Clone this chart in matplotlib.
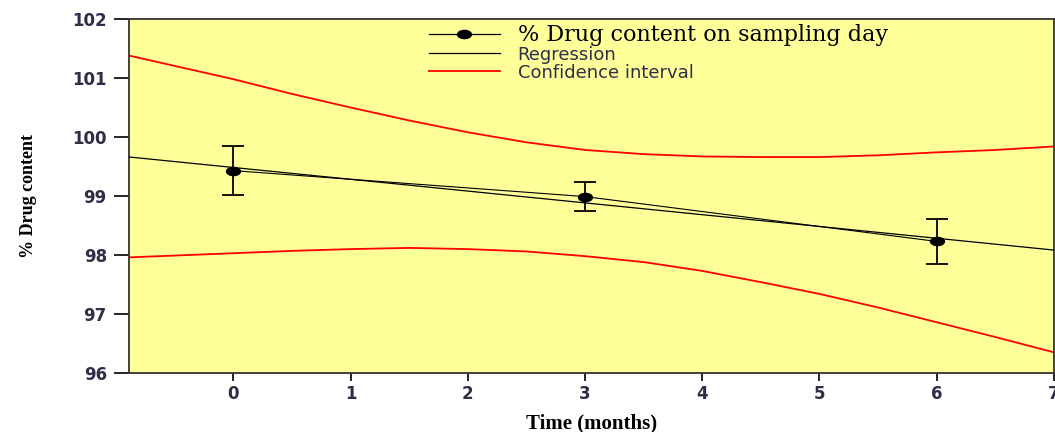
import numpy as np
import matplotlib.pyplot as plt
from matplotlib.lines import Line2D
from matplotlib.path import Path
from matplotlib.transforms import Affine2D

# Measured drug content (mean +/- SD)
months = [0, 3, 6]
drug_content = [99.43, 98.99, 98.23]
drug_sd = [0.42, 0.24, 0.38]

# Confidence interval curves
ci_x = [-0.89, 0, 0.5, 1, 1.5, 2, 2.5, 3, 3.5, 4, 4.5, 5, 5.5, 6, 6.5, 7]
ci_upper = [101.38, 100.98, 100.73, 100.50, 100.28, 100.08, 99.91, 99.78,
            99.71, 99.67, 99.66, 99.66, 99.69, 99.74, 99.78, 99.84]
ci_lower = [97.96, 98.03, 98.07, 98.10, 98.12, 98.10, 98.06, 97.98,
            97.88, 97.73, 97.54, 97.34, 97.11, 96.86, 96.61, 96.35]

x_ticks = [0, 1, 2, 3, 4, 5, 6, 7]
y_ticks = [96, 97, 98, 99, 100, 101, 102]

# Linear regression through the measured points
slope, intercept = np.polyfit(months, drug_content, 1)
reg_x = np.array([ci_x[0], ci_x[-1]])
reg_y = intercept + slope * reg_x

# the original is stretched sideways, so the dots are flat ellipses
oval = Path.unit_circle().transformed(Affine2D().scale(1.7, 1.0))

fig = plt.figure(figsize=(10.55, 4.32), dpi=100)
ax = fig.add_axes([0.1223, 0.1366, 0.8767, 0.8194])
ax.set_facecolor('#ffff99')

ax.errorbar(months, drug_content, yerr=drug_sd, color='black', lw=0.8,
            marker=oval, markersize=10, capsize=8, elinewidth=1.3,
            capthick=1.3, zorder=4)
ax.plot(reg_x, reg_y, color='black', lw=0.9, zorder=3)
ax.plot(ci_x, ci_upper, color='red', lw=1.3)
ax.plot(ci_x, ci_lower, color='red', lw=1.3)

ax.set_xlim(-0.89, 7)
ax.set_ylim(96, 102)
ax.set_xticks(x_ticks)
ax.set_yticks(y_ticks)

for lbl in ax.get_xticklabels() + ax.get_yticklabels():
    lbl.set_fontfamily('DejaVu Sans')
    lbl.set_fontweight('bold')
    lbl.set_fontsize(12)
    lbl.set_color('#2e2e48')
ax.tick_params(axis='y', length=11, width=1.2, pad=5)
ax.tick_params(axis='x', length=6, width=1.2, pad=3)
for sp in ax.spines.values():
    sp.set_linewidth(1.3)
    sp.set_color('#333333')

ax.set_xlabel('Time (months)', family='Liberation Serif', fontweight='bold',
              fontsize=15, labelpad=7)
ax.set_ylabel('% Drug content', family='Liberation Serif', fontweight='bold',
              fontsize=13, labelpad=25)

handles = [
    Line2D([], [], color='black', lw=0.9, marker=oval, markersize=10),
    Line2D([], [], color='black', lw=0.9),
    Line2D([], [], color='red', lw=1.3),
]
labels = ['% Drug content on sampling day', 'Regression', 'Confidence interval']
leg = ax.legend(handles, labels, loc='upper left',
                bbox_to_anchor=(0.307, 1.033), frameon=False,
                handlelength=3.9, labelspacing=0.0, handletextpad=1.0,
                fontsize=13)
texts = leg.get_texts()
texts[0].set_fontfamily('DejaVu Serif')
texts[0].set_fontsize(16)
for t in texts[1:]:
    t.set_fontfamily('DejaVu Sans')
    t.set_fontsize(13)
    t.set_color('#2e2e48')

fig.savefig('out.png', dpi=100)
